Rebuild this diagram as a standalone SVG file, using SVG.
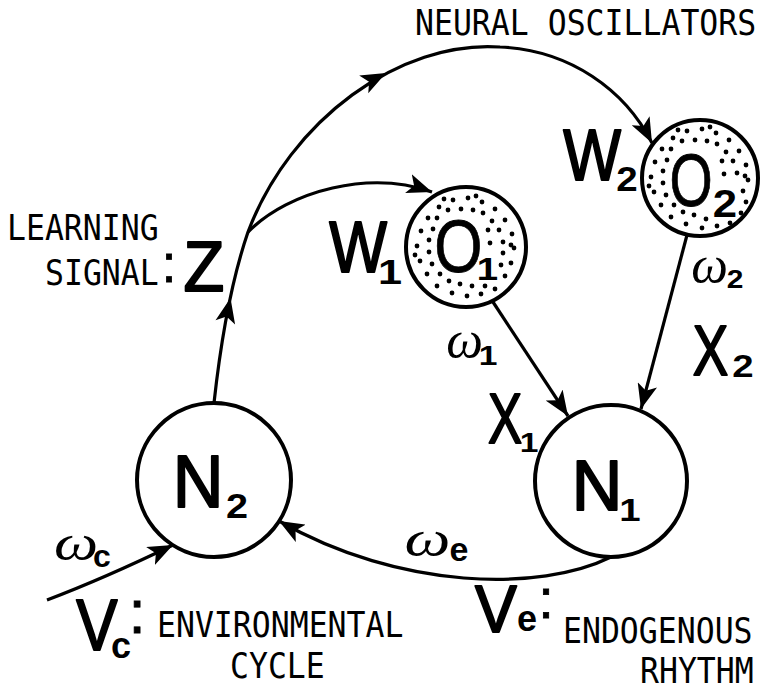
<svg xmlns="http://www.w3.org/2000/svg" xmlns:xlink="http://www.w3.org/1999/xlink" width="765" height="690" viewBox="0 0 765 690">
<style>
.node{fill:#fff;stroke:#000;stroke-width:4}
.osc{fill:#fff;stroke:#000;stroke-width:4}
.edge{fill:none;stroke:#000;stroke-width:3.2}
.mono{font-family:"DejaVu Sans Mono","Liberation Mono",monospace;font-size:31.5px;fill:#000}
.big{font-family:"Liberation Sans",Arial,sans-serif;fill:#000;stroke:#000;stroke-width:2;stroke-linejoin:round;text-anchor:middle}
.bigo{font-family:"Liberation Sans",Arial,sans-serif;fill:#000;stroke:#000;stroke-width:0.8;text-anchor:middle}
.sub{font-family:"Liberation Sans",Arial,sans-serif;font-weight:bold;fill:#000;text-anchor:middle}
.om{font-family:"Liberation Serif","Times New Roman",serif;font-style:italic;fill:#000;text-anchor:middle}
.col{font-family:"Liberation Sans",Arial,sans-serif;fill:#000;stroke:#000;stroke-width:0.8;text-anchor:middle}
.dot{fill:#000}
</style>
<defs>
<marker id="arr" markerUnits="userSpaceOnUse" markerWidth="27" markerHeight="20" viewBox="0 0 27 20" refX="25" refY="10" orient="auto">
<path d="M0,0 L25,10 L0,20 L6,10 Z" fill="#000"/>
</marker>
<path id="ah" d="M0,0 L-25,-10 L-19,0 L-25,10 Z" fill="#000"/>
<g id="dotsCommon" class="dot">
<circle cx="-14" cy="46" r="2.4"/><circle cx="-29" cy="39" r="2.4"/><circle cx="-39" cy="27" r="2.4"/><circle cx="-46" cy="14" r="2.4"/>
<circle cx="-49" cy="-1" r="2.4"/><circle cx="-45" cy="-16" r="2.4"/><circle cx="-38" cy="-29" r="2.4"/><circle cx="-27" cy="-40" r="2.4"/>
<circle cx="-13" cy="-47" r="2.4"/><circle cx="2" cy="-49" r="2.4"/><circle cx="16" cy="-45" r="2.4"/><circle cx="29" cy="-38" r="2.4"/>
<circle cx="39" cy="-27" r="2.4"/><circle cx="46" cy="-13" r="2.4"/>
<circle cx="-6" cy="37" r="2.4"/><circle cx="-17" cy="34" r="2.4"/><circle cx="-26" cy="27" r="2.4"/><circle cx="-34" cy="17" r="2.4"/>
<circle cx="-37" cy="5" r="2.4"/><circle cx="-37" cy="-7" r="2.4"/><circle cx="-33" cy="-18" r="2.4"/><circle cx="-29" cy="-29" r="2.4"/>
<circle cx="-18" cy="-37" r="2.4"/><circle cx="-5" cy="-38" r="2.4"/><circle cx="7" cy="-37" r="2.4"/><circle cx="17" cy="-34" r="2.4"/>
<circle cx="26" cy="-26" r="2.4"/><circle cx="33" cy="-17" r="2.4"/><circle cx="37" cy="-5" r="2.4"/>
<circle cx="22" cy="-17" r="2.4"/><circle cx="24" cy="-4" r="2.4"/>
<circle cx="-51" cy="8" r="2.4"/><circle cx="10" cy="-51" r="2.4"/><circle cx="-22" cy="-48" r="2.4"/><circle cx="45" cy="-2" r="2.4"/>
</g>
</defs>
<rect width="765" height="690" fill="#fff"/>

<g id="connectors">
<path class="edge" d="M214,403 C222,330 235,270 248,232 C290,120 400,40 500,47 C570,50 625,90 652,143" marker-end="url(#arr)"/>
<path class="edge" d="M248,232 C290,190 370,170 432,192" marker-end="url(#arr)"/>
<path class="edge" d="M493,302 L568,416" marker-end="url(#arr)"/>
<path class="edge" d="M687,235 L641,409" marker-end="url(#arr)"/>
<path class="edge" d="M611,557 C540,592 400,590 279,521" marker-end="url(#arr)"/>
<path class="edge" d="M47,600 Q105,578 173,545" marker-end="url(#arr)"/>
<use xlink:href="#ah" href="#ah" transform="translate(230.5,298) rotate(-78)"/>
<use xlink:href="#ah" href="#ah" transform="translate(386,73) rotate(-27)"/>
</g>

<g id="N2">
<circle class="node" cx="214" cy="480" r="77"/>
<text class="big" font-size="74" transform="translate(198,507) scale(0.95,1)">N</text>
<text class="sub" font-size="36" transform="translate(237,518) scale(1.1,1)">2</text>
</g>

<g id="N1">
<circle class="node" cx="611" cy="481" r="76"/>
<text class="big" font-size="70" transform="translate(597,510)">N</text>
<text class="sub" font-size="32" transform="translate(630,521) scale(1.2,1)">1</text>
</g>

<g id="O1">
<circle class="osc" cx="466" cy="247" r="60"/>
<use xlink:href="#dotsCommon" href="#dotsCommon" transform="translate(466,247)"/>
<g class="dot" transform="translate(466,247)">
<circle cx="48" cy="1" r="2.4"/><circle cx="45" cy="16" r="2.4"/><circle cx="39" cy="29" r="2.4"/><circle cx="29" cy="42" r="2.4"/>
<circle cx="15" cy="47" r="2.4"/><circle cx="1" cy="49" r="2.4"/><circle cx="37" cy="6" r="2.4"/><circle cx="35" cy="18" r="2.4"/>
<circle cx="19" cy="39" r="2.4"/><circle cx="6" cy="39" r="2.4"/>
</g>
<text class="bigo" font-size="74" transform="translate(458.5,272) scale(0.84,1)">O</text>
<text class="sub" font-size="32" transform="translate(487.5,280) scale(1.2,1)">1</text>
</g>

<g id="O2">
<circle class="osc" cx="700" cy="178" r="58"/>
<use xlink:href="#dotsCommon" href="#dotsCommon" transform="translate(700,178)"/>
<g class="dot" transform="translate(700,178)">
<circle cx="48" cy="2" r="2.4"/><circle cx="43" cy="13" r="2.4"/><circle cx="46" cy="24" r="2.4"/><circle cx="41" cy="35" r="2.4"/>
<circle cx="30" cy="45" r="2.4"/><circle cx="17" cy="48" r="2.4"/><circle cx="6" cy="41" r="2.4"/><circle cx="2" cy="50" r="2.4"/>
</g>
<text class="bigo" font-size="74" transform="translate(691,206) scale(0.75,1)">O</text>
<text class="sub" font-size="38" transform="translate(725,217) scale(1.15,1)">2</text>
</g>

<g id="labels">
<text class="mono" transform="translate(415,35) scale(1,1.13)">NEURAL OSCILLATORS</text>
<text class="mono" transform="translate(7,240) scale(1,1.13)">LEARNING</text>
<text class="mono" transform="translate(45,285) scale(1,1.13)">SIGNAL</text>
<text class="col" font-size="54" x="169" y="282">:</text>
<text class="big" font-size="71" transform="translate(204,291) scale(0.94,1)">Z</text>

<text class="big" font-size="72" transform="translate(358,272) scale(0.85,1)">W</text>
<text class="sub" font-size="36" transform="translate(390,284) scale(1.2,1)">1</text>
<text class="big" font-size="72" transform="translate(592,180) scale(0.85,1)">W</text>
<text class="sub" font-size="35" transform="translate(627,191) scale(1.1,1)">2</text>

<text class="om" font-size="52" x="464.5" y="357">ω</text>
<text class="sub" font-size="28" transform="translate(488,365) scale(1.2,1)">1</text>
<text class="om" font-size="52" x="709.5" y="282">ω</text>
<text class="sub" font-size="26" transform="translate(735,288) scale(1.15,1)">2</text>

<text class="big" font-size="71" transform="translate(505,443) scale(0.72,1)">X</text>
<text class="sub" font-size="28" transform="translate(529,452) scale(1.2,1)">1</text>
<text class="big" font-size="70" transform="translate(710.5,375) scale(0.76,1)">X</text>
<text class="sub" font-size="32" transform="translate(743,377) scale(1.2,1)">2</text>

<text class="om" font-size="50" transform="translate(76,560) scale(1.25,1)">ω</text>
<text class="sub" font-size="32" x="102" y="567">c</text>
<text class="om" font-size="50" transform="translate(427.5,556) scale(1.3,1)">ω</text>
<text class="sub" font-size="34" x="459" y="561">e</text>

<text class="big" font-size="72" transform="translate(97,650) scale(0.86,1)">V</text>
<text class="sub" font-size="36" x="121" y="658">c</text>
<text class="col" font-size="62" x="137" y="633">:</text>
<text class="mono" transform="translate(157,637) scale(1,1.13)">ENVIRONMENTAL</text>
<text class="mono" transform="translate(230,678) scale(1,1.13)">CYCLE</text>

<text class="big" font-size="66" transform="translate(496,632) scale(0.95,1)">V</text>
<text class="sub" font-size="36" x="527" y="631">e</text>
<text class="col" font-size="56" x="546" y="618">:</text>
<text class="mono" transform="translate(563,643) scale(1,1.13)">ENDOGENOUS</text>
<text class="mono" transform="translate(640,683) scale(1,1.13)">RHYTHM</text>
</g>
</svg>
